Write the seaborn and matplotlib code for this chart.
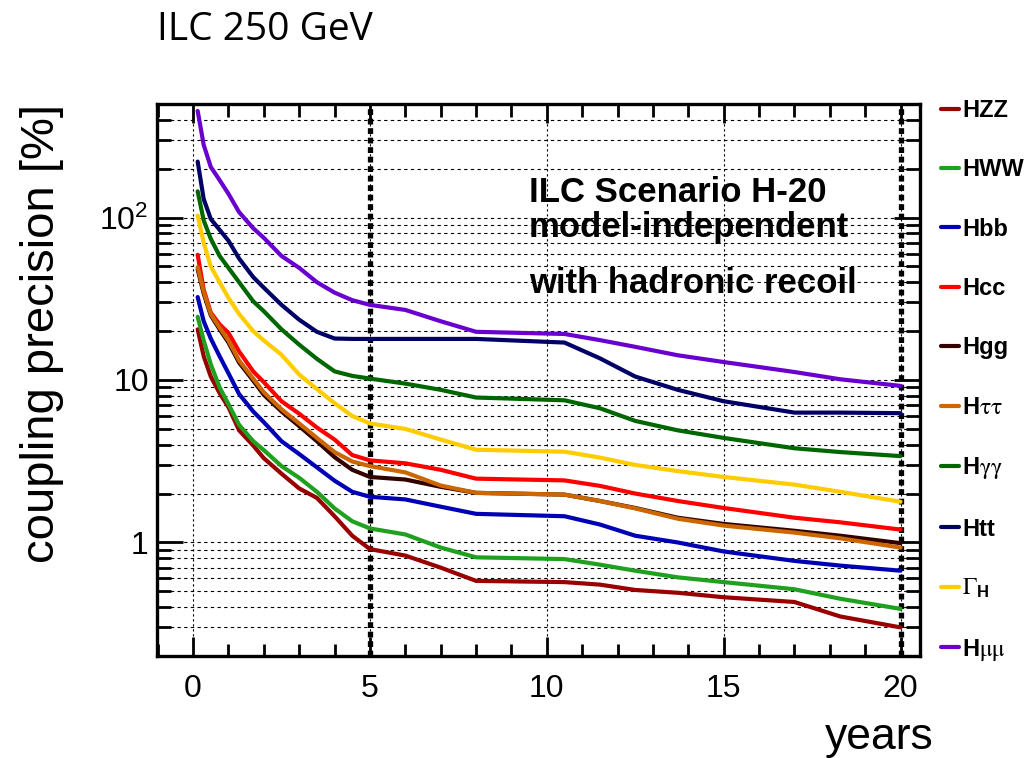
import numpy as np
import pandas as pd
import matplotlib
matplotlib.use("Agg")
import matplotlib.pyplot as plt
from matplotlib.ticker import FixedLocator, MultipleLocator, LogLocator, NullFormatter
import seaborn as sns

# ---------------- data ----------------
years = [0.13, 0.3, 0.5, 0.75, 1.0, 1.3, 1.7, 2.0, 2.5, 3.0, 3.5, 4.0, 4.5,
         5.0, 6.0, 7.0, 8.0, 10.5, 11.5, 12.5, 13.7, 15.0, 17.0, 18.3, 20.0]

hzz   = [20.5, 14.0, 10.5, 8.3, 6.8, 4.9, 3.95, 3.3, 2.65, 2.15, 1.88, 1.45, 1.1,
         0.91, 0.83, 0.70, 0.58, 0.57, 0.55, 0.51, 0.49, 0.46, 0.43, 0.35, 0.30]
hww   = [24.5, 17.5, 12.5, 9.0, 7.1, 5.3, 4.2, 3.7, 2.95, 2.5, 2.05, 1.62, 1.35,
         1.22, 1.12, 0.93, 0.81, 0.79, 0.73, 0.67, 0.61, 0.57, 0.515, 0.45, 0.39]
hbb   = [32.4, 23.0, 18.0, 14.0, 11.0, 8.2, 6.4, 5.5, 4.2, 3.5, 2.9, 2.4, 2.05,
         1.91, 1.84, 1.66, 1.50, 1.45, 1.29, 1.10, 1.0, 0.88, 0.77, 0.72, 0.67]
hcc   = [59.0, 36.0, 26.0, 22.0, 19.5, 15.0, 11.3, 9.7, 7.4, 6.2, 5.1, 4.3, 3.45,
         3.2, 3.07, 2.8, 2.47, 2.41, 2.23, 2.0, 1.8, 1.63, 1.42, 1.33, 1.2]
hgg   = [48.0, 34.0, 25.0, 20.5, 17.0, 12.8, 9.9, 8.1, 6.4, 5.2, 4.2, 3.35, 2.8,
         2.53, 2.44, 2.2, 2.02, 1.97, 1.8, 1.63, 1.42, 1.3, 1.18, 1.1, 0.99]
htautau = [49.5, 35.0, 25.5, 21.0, 17.5, 13.2, 10.2, 8.4, 6.6, 5.4, 4.4, 3.6, 3.15,
           2.95, 2.7, 2.24, 2.02, 1.97, 1.8, 1.62, 1.4, 1.27, 1.15, 1.06, 0.93]
hgamgam = [145.0, 96.0, 74.0, 58.0, 49.0, 40.0, 30.5, 26.5, 20.5, 16.5, 13.5, 11.3, 10.6,
           10.2, 9.5, 8.7, 7.8, 7.5, 6.7, 5.6, 4.9, 4.4, 3.8, 3.6, 3.4]
htt   = [221.0, 130.0, 98.0, 84.0, 72.0, 56.0, 43.0, 37.0, 29.0, 23.5, 19.8, 18.0, 17.9,
         17.9, 17.9, 17.9, 17.9, 17.0, 13.6, 10.5, 8.7, 7.4, 6.3, 6.3, 6.25]
gamma_h = [103.0, 70.0, 50.0, 40.0, 32.0, 25.5, 20.0, 17.5, 14.3, 10.8, 8.8, 7.2, 6.0,
           5.4, 5.0, 4.3, 3.72, 3.62, 3.33, 3.0, 2.75, 2.53, 2.27, 2.05, 1.78]
hmumu = [453.0, 280.0, 205.0, 170.0, 140.0, 108.0, 86.0, 75.0, 58.0, 49.0, 40.0, 34.5, 31.0,
         29.0, 27.0, 23.0, 19.8, 19.2, 17.6, 16.0, 14.2, 12.9, 11.2, 10.1, 9.2]

labels = ["HZZ", "HWW", "Hbb", "Hcc", "Hgg", r"H$\mathrm{\tau\tau}$",
          r"H$\mathrm{\gamma\gamma}$", "Htt", r"$\mathrm{\Gamma}_\mathdefault{H}$",
          r"H$\mathrm{\mu\mu}$"]
series = [hzz, hww, hbb, hcc, hgg, htautau, hgamgam, htt, gamma_h, hmumu]
colors = ["#990000", "#1fa01f", "#0000b4", "#ff0000", "#330000",
          "#cc6600", "#006600", "#000066", "#ffcc00", "#6a00d0"]

x_ticks = [0, 5, 10, 15, 20]
y_ticks = [1, 10, 100]
y_ticklabels = ["1", "10", r"$\mathdefault{10^{2}}$"]

df = pd.DataFrame({
    "year": np.tile(years, len(labels)),
    "precision": np.concatenate([np.asarray(s, float) for s in series]),
    "coupling": np.repeat(labels, len(years)),
})

# ---------------- style ----------------
sns.set_style("ticks")
plt.rcParams["font.family"] = ["Liberation Sans", "DejaVu Sans"]
plt.rcParams["mathtext.fontset"] = "stix"
for key in ("text.color", "axes.labelcolor", "xtick.color", "ytick.color", "axes.edgecolor"):
    plt.rcParams[key] = "black"

fig = plt.figure(figsize=(10.31, 7.58), dpi=100)
ax = fig.add_axes([157 / 1031, 1 - 656 / 758, (920 - 157) / 1031, (656 - 104) / 758])

sns.lineplot(data=df, x="year", y="precision", hue="coupling", hue_order=labels,
             palette=dict(zip(labels, colors)), linewidth=3.0, estimator=None,
             sort=False, ax=ax, legend=True)

ax.set_yscale("log")
ax.set_xlim(-1.02, 20.55)
ax.set_ylim(0.2, 500)

# ticks
ax.xaxis.set_major_locator(FixedLocator(x_ticks))
ax.xaxis.set_minor_locator(MultipleLocator(1))
ax.set_xticklabels([str(v) for v in x_ticks])
ax.yaxis.set_major_locator(FixedLocator(y_ticks))
ax.set_yticklabels(y_ticklabels)
ax.yaxis.set_minor_locator(LogLocator(base=10, subs=np.arange(2, 10)))
ax.yaxis.set_minor_formatter(NullFormatter())

ax.tick_params(axis="both", which="both", direction="in", top=True, right=True,
               color="black", labelcolor="black", width=2.0)
ax.tick_params(axis="y", which="major", length=19, labelsize=23, pad=6)
ax.tick_params(axis="y", which="minor", length=10)
ax.tick_params(axis="x", which="major", length=14, labelsize=23, pad=13)
ax.tick_params(axis="x", which="minor", length=9)

for sp in ax.spines.values():
    sp.set_color("black")
    sp.set_linewidth(2.4)

# grid
ax.grid(which="both", axis="y", color="black", linestyle=(0, (3, 3)), linewidth=0.8)
ax.grid(which="major", axis="x", color="black", linestyle=(0, (2, 2.5)), linewidth=0.8)
for xv in (5, 20):
    ax.axvline(xv, color="black", linewidth=3.8, linestyle=(0, (1.1, 0.7)), zorder=1.5)

# labels
ax.set_ylabel("coupling precision [%]", fontsize=34, color="black")
ax.yaxis.set_label_coords(-0.122, 0.585)
ax.set_xlabel("years", fontsize=32, ha="right", color="black")
ax.xaxis.set_label_coords(1.018, -0.168)
ax.xaxis.label.set_va("baseline")

# annotation text
txt_kw = dict(transform=ax.transAxes, fontsize=25, fontweight="bold", va="baseline",
              ha="left", color="black")
ax.text(0.4876, 0.823, "ILC Scenario H-20", **txt_kw)
ax.text(0.4876, 0.759, "model-independent", **txt_kw)
ax.text(0.4876, 0.657, "with hadronic recoil", **txt_kw)

# title
fig.text(157 / 1031, 1 - 40 / 758, "ILC 250 GeV", fontsize=28, color="black",
         family=["Open Sans", "DejaVu Sans"], va="baseline", ha="left")

# legend
handles, lbls = ax.get_legend_handles_labels()
leg = ax.legend(handles, lbls, loc="upper left", bbox_to_anchor=(941 / 1031, 1 - 99 / 758),
                bbox_transform=fig.transFigure, frameon=False, borderaxespad=0,
                borderpad=0, handlelength=0.75, handletextpad=0.15, labelspacing=1.54,
                prop={"weight": "bold", "size": 17})
for ln in leg.get_lines():
    ln.set_linewidth(3.0)
for t in leg.get_texts():
    t.set_color("black")

fig.savefig("out.png", dpi=100)
